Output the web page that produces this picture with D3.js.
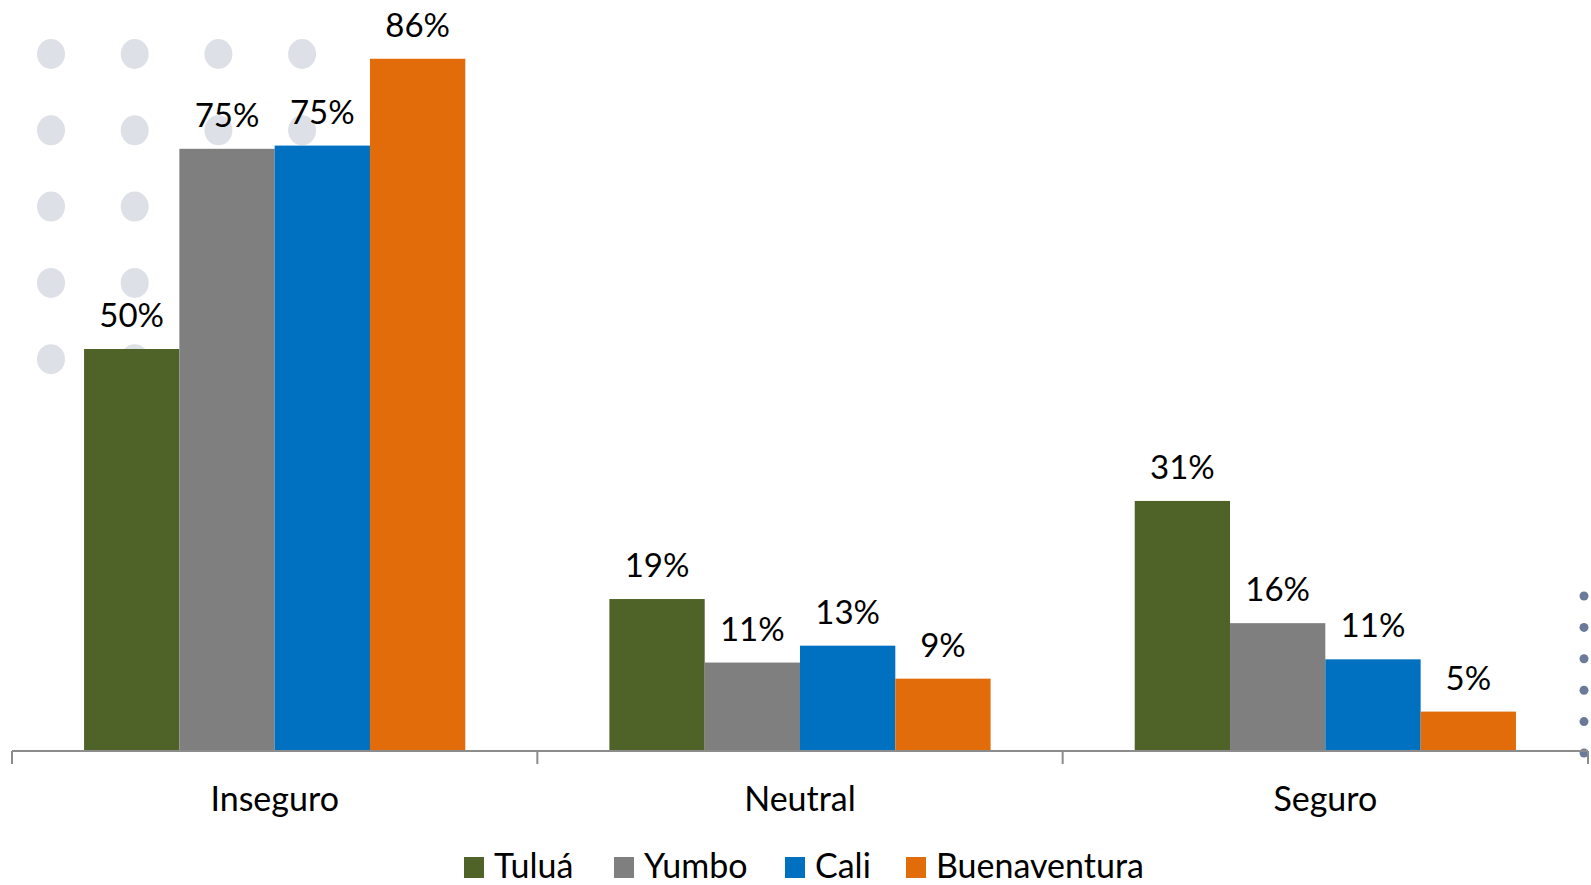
<!DOCTYPE html>
<html>
<head>
<meta charset="utf-8">
<script src="https://cdn.jsdelivr.net/npm/d3@7"></script>
<style>
  body { margin: 0; background: #fff; }
  text { font-family: Lato, "Open Sans", sans-serif; fill: #000; }
</style>
</head>
<body>
<script>
// data
var categories = ['Inseguro', 'Neutral', 'Seguro'];
var series = ['Tuluá', 'Yumbo', 'Cali', 'Buenaventura'];
var colors = ['#4f6228', '#7f7f7f', '#0070c0', '#e36c0a'];
var tulua = [0.500, 0.189, 0.311];
var yumbo = [0.749, 0.110, 0.159];
var cali = [0.753, 0.131, 0.114];
var buenaventura = [0.861, 0.090, 0.049];
var values = [tulua, yumbo, cali, buenaventura];

var width = 1591, height = 885;
var axisY = 751;

var svg = d3.select('body').append('svg')
  .attr('width', width)
  .attr('height', height);

// decoration dots behind the bars
var dotCols = [0, 1, 2, 3], dotRows = [0, 1, 2, 3, 4];
dotRows.forEach(function(r) {
  svg.selectAll(null).data(dotCols).enter().append('ellipse')
    .attr('cx', function(c) { return 51 + c * 83.7; })
    .attr('cy', 54 + r * 76.3)
    .attr('rx', 14).attr('ry', 15)
    .style('fill', '#dee0e7');
});
svg.selectAll(null).data([0, 1, 2, 3, 4, 5]).enter().append('circle')
  .attr('cx', 1584)
  .attr('cy', function(d) { return 596 + d * 31.4; })
  .attr('r', 4.5)
  .style('fill', '#6b7a99');

var x = d3.scaleBand().domain(categories).range([12, 1588]);
var xs = d3.scaleBand().domain(series).range([0, x.bandwidth()]).paddingOuter(0.756);
var y = d3.scaleLinear().domain([0, 1]).range([axisY, axisY - 804]);

var groups = svg.selectAll('g.cat').data(categories).enter().append('g')
  .attr('class', 'cat')
  .attr('transform', function(d) { return 'translate(' + x(d) + ',0)'; });

series.forEach(function(s, si) {
  groups.append('rect')
    .attr('x', xs(s))
    .attr('y', function(d, ci) { return y(values[si][ci]); })
    .attr('width', xs.bandwidth())
    .attr('height', function(d, ci) { return axisY - y(values[si][ci]); })
    .style('fill', colors[si]);
});

series.forEach(function(s, si) {
  groups.append('text')
    .attr('x', xs(s) + xs.bandwidth() / 2)
    .attr('y', function(d, ci) { return y(values[si][ci]) - 22; })
    .attr('text-anchor', 'middle')
    .style('font-size', '33px')
    .text(function(d, ci) { return Math.round(values[si][ci] * 100) + '%'; });
});

// category axis with ticks between categories
var axis = svg.append('g');
axis.append('line')
  .attr('x1', x.range()[0]).attr('x2', x.range()[1])
  .attr('y1', axisY).attr('y2', axisY)
  .style('stroke', '#8c8c8c').style('stroke-width', 2);
var bounds = categories.map(function(c) { return x(c); }).concat([x.range()[1]]);
axis.selectAll(null).data(bounds).enter().append('line')
  .attr('x1', function(d) { return d; }).attr('x2', function(d) { return d; })
  .attr('y1', axisY).attr('y2', axisY + 13)
  .style('stroke', '#8c8c8c').style('stroke-width', 2);
axis.selectAll(null).data(categories).enter().append('text')
  .attr('x', function(d) { return x(d) + x.bandwidth() / 2; })
  .attr('y', 811)
  .attr('text-anchor', 'middle')
  .style('font-size', '34px')
  .text(function(d) { return d; });

// legend
var legendX = [464, 614, 785, 906];
var legend = svg.selectAll('g.leg').data(series).enter().append('g')
  .attr('class', 'leg')
  .attr('transform', function(d, i) { return 'translate(' + legendX[i] + ',857)'; });
legend.append('rect')
  .attr('width', 20).attr('height', 21)
  .style('fill', function(d, i) { return colors[i]; });
legend.append('text')
  .attr('x', 30).attr('y', 21)
  .style('font-size', '34px')
  .text(function(d) { return d; });
</script>
</body>
</html>
